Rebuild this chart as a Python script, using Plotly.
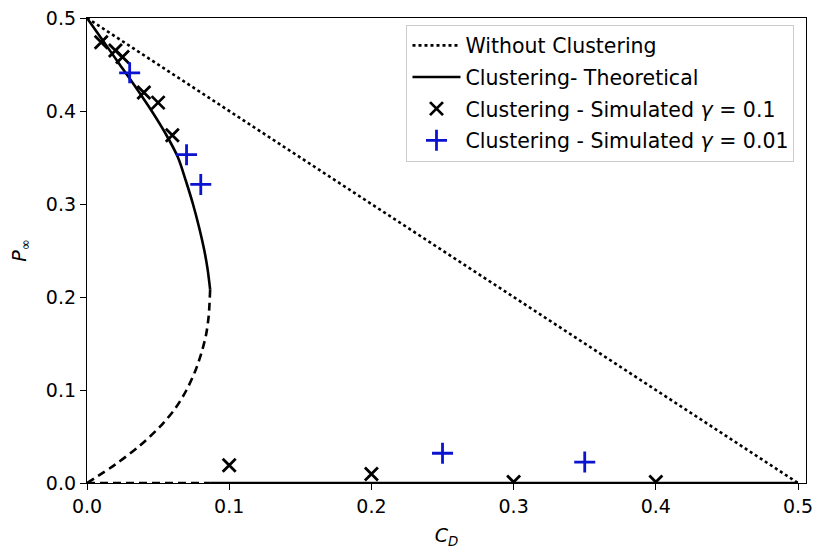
import plotly.graph_objects as go

# Without clustering reference line
nc_x = [0.0, 0.5]
nc_y = [0.5, 0.0]

# Theoretical curve - stable branch (solid)
st_p = [0.5, 0.475, 0.45, 0.425, 0.4, 0.375, 0.35, 0.325, 0.3, 0.275, 0.25, 0.23, 0.208]
st_c = [0.0, 0.0115, 0.023, 0.0345, 0.0455, 0.0555, 0.0640, 0.0695, 0.0745, 0.0788, 0.0825, 0.0848, 0.0866]

# Theoretical curve - unstable branch (dashed)
un_p = [0.208, 0.18, 0.16, 0.14, 0.12, 0.1, 0.08, 0.06, 0.04, 0.02, 0.0]
un_c = [0.0866, 0.0856, 0.0838, 0.0805, 0.0760, 0.0700, 0.0620, 0.0510, 0.0370, 0.0200, 0.0]

# Trivial branch P=0
z_solid_c = [0.0866, 0.5]
z_dash_c = [0.0, 0.0866]
z_p = [0.0, 0.0]

# Simulated gamma = 0.1
g1_c = [0.01, 0.02, 0.025, 0.04, 0.05, 0.06, 0.1, 0.2, 0.3, 0.4]
g1_p = [0.474, 0.465, 0.458, 0.420, 0.409, 0.374, 0.019, 0.0097, 0.001, 0.001]

# Simulated gamma = 0.01
g2_c = [0.03, 0.07, 0.08, 0.25, 0.35]
g2_p = [0.441, 0.353, 0.321, 0.032, 0.0225]

xticks = [0.0, 0.1, 0.2, 0.3, 0.4, 0.5]
yticks = [0.0, 0.1, 0.2, 0.3, 0.4, 0.5]

FONT = "DejaVu Sans"
fig = go.Figure()

fig.add_trace(go.Scatter(x=nc_x, y=nc_y, mode="lines",
                         line=dict(color="black", width=2.6, dash="dot"),
                         name="Without Clustering", legendgroup="a"))
fig.add_trace(go.Scatter(x=st_c, y=st_p, mode="lines",
                         line=dict(color="black", width=2.6, shape="spline", smoothing=0.8),
                         name="Clustering- Theoretical", legendgroup="b"))
fig.add_trace(go.Scatter(x=un_c, y=un_p, mode="lines",
                         line=dict(color="black", width=2.6, dash="8px,5px", shape="spline", smoothing=0.8),
                         showlegend=False))
fig.add_trace(go.Scatter(x=z_solid_c, y=z_p, mode="lines",
                         line=dict(color="black", width=2.6),
                         showlegend=False))
fig.add_trace(go.Scatter(x=z_dash_c, y=z_p, mode="lines",
                         line=dict(color="black", width=2.6, dash="8px,5px"),
                         showlegend=False))
fig.add_trace(go.Scatter(x=g1_c, y=g1_p, mode="markers",
                         marker=dict(symbol="x-thin", size=13, color="black",
                                     line=dict(color="black", width=2.8)),
                         name="Clustering - Simulated <i>γ</i> = 0.1", legendgroup="c"))
fig.add_trace(go.Scatter(x=g2_c, y=g2_p, mode="markers",
                         marker=dict(symbol="cross-thin", size=15, color="#0a14d0",
                                     line=dict(color="#0a14d0", width=2.8)),
                         name="Clustering - Simulated <i>γ</i> = 0.01", legendgroup="d"))

axis_common = dict(showline=True, linecolor="black", linewidth=1.3, mirror=True,
                   ticks="outside", ticklen=6, tickwidth=1.3, tickcolor="black",
                   showgrid=False, zeroline=False, tickformat=".1f", automargin=False,
                   tickfont=dict(family=FONT, size=19, color="black"),
                   layer="below traces")

fig.update_layout(
    width=816, height=551,
    margin=dict(l=87, r=10, t=18, b=68),
    plot_bgcolor="white", paper_bgcolor="white",
    font=dict(family=FONT, color="black"),
    xaxis=dict(range=[0, 0.5056], tickvals=xticks,
               title=dict(text="<i>C<sub>D</sub></i>", font=dict(family=FONT, size=19), standoff=12),
               **axis_common),
    yaxis=dict(range=[0, 0.5], tickvals=yticks,
               title=dict(text="<i>P</i><sub>∞</sub>", font=dict(family=FONT, size=19), standoff=14),
               **axis_common),
    legend=dict(x=0.984, y=0.986, xanchor="right", yanchor="top",
                bgcolor="white", bordercolor="#cccccc", borderwidth=1,
                font=dict(family=FONT, size=20.5, color="black"),
                tracegroupgap=2, itemwidth=48),
    showlegend=True,
)

fig.write_html("out.html")
